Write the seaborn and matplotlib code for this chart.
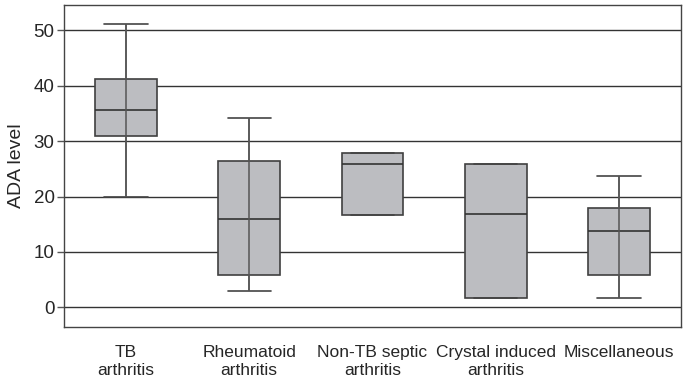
import numpy as np
import pandas as pd
import matplotlib
matplotlib.use("Agg")
import matplotlib.pyplot as plt
import seaborn as sns

groups = ["TB\narthritis", "Rheumatoid\narthritis", "Non-TB septic\narthritis",
          "Crystal induced\narthritis", "Miscellaneous"]
mins = [19.9, 2.9, 16.6, 1.7, 1.7]
q1s = [30.9, 5.9, 16.6, 1.7, 5.8]
medians = [35.6, 15.9, 25.9, 16.8, 13.7]
q3s = [41.2, 26.5, 27.9, 25.8, 17.9]
maxs = [51.1, 34.2, 27.9, 25.8, 23.7]

# five points per group reproduce the five-number summary exactly
rows = []
for g, a, b, c, d, e in zip(groups, mins, q1s, medians, q3s, maxs):
    for v in (a, b, c, d, e):
        rows.append({"group": g, "ADA": v})
df = pd.DataFrame(rows)

sns.set_style("white")
plt.rcParams["font.family"] = ["Liberation Sans", "DejaVu Sans"]

fig = plt.figure(figsize=(6.93, 3.84), dpi=100)
ax = fig.add_axes([0.0928, 0.149, 0.8894, 0.837])

for y in range(0, 60, 10):
    ax.axhline(y, color="#333333", lw=1.0, zorder=0)

sns.boxplot(data=df, x="group", y="ADA", order=groups, whis=np.inf, width=0.5,
            color="#bcbdc1", saturation=1, fliersize=0, ax=ax,
            boxprops=dict(edgecolor="#404040", linewidth=1.2, zorder=2),
            medianprops=dict(color="#333333", linewidth=1.2, zorder=3),
            whiskerprops=dict(color="#555555", linewidth=1.1),
            capprops=dict(color="#444444", linewidth=1.2),
            capwidths=0.35)

# whisker line continues through the box (only where there are whiskers)
pos = np.arange(len(groups))
has_whisk = (np.array(mins) < np.array(q1s)) | (np.array(maxs) > np.array(q3s))
ax.vlines(pos[has_whisk], np.array(mins)[has_whisk], np.array(maxs)[has_whisk],
          color="#555555", lw=1.1, zorder=4)

ax.set_xlim(-0.5, 4.5)
ax.set_ylim(-3.5, 54.5)
ax.set_yticks(range(0, 60, 10))
ax.set_xlabel("")
ax.set_ylabel("ADA level", fontsize=14, labelpad=6)
ax.tick_params(axis="y", labelsize=13.5, length=5, width=1, color="#555555", left=True, pad=2)
ax.tick_params(axis="x", labelsize=12.5, length=0, pad=13)
for lbl in ax.get_xticklabels():
    lbl.set_linespacing(1.25)
for s in ax.spines.values():
    s.set_color("#444444")
    s.set_linewidth(1.0)

fig.savefig("out.png", dpi=100)
